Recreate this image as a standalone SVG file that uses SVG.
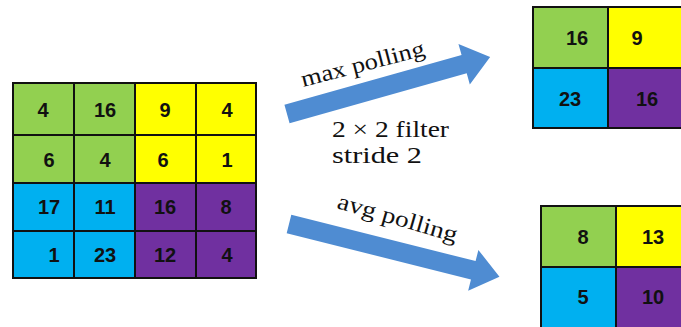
<svg xmlns="http://www.w3.org/2000/svg" width="681" height="327" viewBox="0 0 681 327">
<style>
.g{fill:#92D050}.y{fill:#FFFF00}.b{fill:#00B0F0}.p{fill:#7030A0}
.ln{stroke:#111;stroke-width:2;fill:none}
.n{font-family:"Liberation Sans",Arial,sans-serif;font-weight:bold;font-size:20px;fill:#111;text-anchor:middle;dominant-baseline:central}
.t{font-family:"Liberation Serif","Times New Roman",serif;font-size:23px;fill:#111}
.arr{fill:#4F8CD2}
</style>
<rect width="681" height="327" fill="#fff"/>
<g id="input">
<rect class="g" x="13" y="83" width="122" height="100"/>
<rect class="y" x="135" y="83" width="121" height="100"/>
<rect class="b" x="13" y="183" width="122" height="95"/>
<rect class="p" x="135" y="183" width="121" height="95"/>
<path class="ln" d="M13,83H256V278H13Z M74,83V278 M135,83V278 M196,83V278 M13,135H256 M13,183H256 M13,231H256"/>
<text class="n" x="43" y="110">4</text><text class="n" x="105" y="110">16</text><text class="n" x="165" y="110">9</text><text class="n" x="227" y="110">4</text>
<text class="n" x="49" y="160">6</text><text class="n" x="105" y="160">4</text><text class="n" x="163" y="160">6</text><text class="n" x="227" y="160">1</text>
<text class="n" x="49" y="207">17</text><text class="n" x="105" y="207">11</text><text class="n" x="165" y="207">16</text><text class="n" x="226" y="207">8</text>
<text class="n" x="54" y="255">1</text><text class="n" x="105" y="255">23</text><text class="n" x="165" y="255">12</text><text class="n" x="227" y="255">4</text>
</g>
<g id="maxout">
<rect class="g" x="533" y="7" width="75" height="61"/>
<rect class="y" x="608" y="7" width="75" height="61"/>
<rect class="b" x="533" y="68" width="75" height="60"/>
<rect class="p" x="608" y="68" width="75" height="60"/>
<path class="ln" d="M533,7H683V128H533Z M608,7V128 M533,68H683"/>
<text class="n" x="577" y="38">16</text><text class="n" x="637" y="38">9</text>
<text class="n" x="570" y="99">23</text><text class="n" x="647" y="99">16</text>
</g>
<g id="avgout">
<rect class="g" x="541" y="206" width="75" height="61"/>
<rect class="y" x="616" y="206" width="75" height="61"/>
<rect class="b" x="541" y="267" width="75" height="62"/>
<rect class="p" x="616" y="267" width="75" height="62"/>
<path class="ln" d="M541,330V206H691 M616,206V330 M541,267H691"/>
<text class="n" x="583" y="237">8</text><text class="n" x="653" y="237">13</text>
<text class="n" x="583" y="297">5</text><text class="n" x="653" y="297">10</text>
</g>
<g id="connectors">
<g transform="translate(287,114) rotate(-15.7)">
<polygon class="arr" points="0,-9.5 184,-9.5 184,-21 211,0 184,21 184,9.5 0,9.5"/>
</g>
<g transform="translate(289,224) rotate(14.1)">
<polygon class="arr" points="0,-9.5 190,-9.5 190,-21 217,0 190,21 190,9.5 0,9.5"/>
</g>
</g>
<text class="t" transform="translate(303,87) rotate(-14.5)" textLength="127" lengthAdjust="spacingAndGlyphs">max polling</text>
<text class="t" transform="translate(336,208) rotate(16)" textLength="124" lengthAdjust="spacingAndGlyphs">avg  polling</text>
<text class="t" x="332" y="137" textLength="117" lengthAdjust="spacingAndGlyphs">2 × 2 filter</text>
<text class="t" x="332" y="163" textLength="90" lengthAdjust="spacingAndGlyphs">stride 2</text>
</svg>
